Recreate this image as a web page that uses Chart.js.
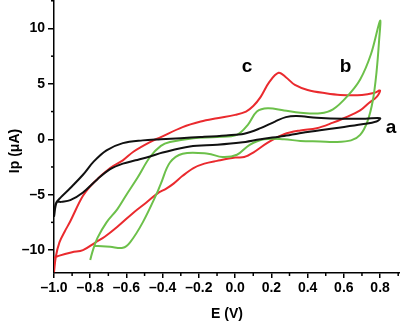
<!DOCTYPE html>
<html>
<head>
<meta charset="utf-8">
<script src="https://cdn.jsdelivr.net/npm/chart.js@4.4.1/dist/chart.umd.min.js"></script>
<style>
    html, body { margin: 0; padding: 0; background: #fff; }
    #wrap { width: 400px; height: 323px; position: relative; }
</style>
</head>
<body>
<div id="wrap"><canvas id="cvChart"></canvas></div>
<script>
// Curve a (black): potential E (V) and current Ip (uA), along the sweep
const aE = [-1.0, -0.99, -0.96, -0.91, -0.84, -0.78, -0.71, -0.62, -0.51, -0.41, -0.30, -0.19, -0.05, 0.05, 0.14, 0.22, 0.28, 0.34, 0.45, 0.60, 0.72, 0.80,
            0.78, 0.70, 0.55, 0.40, 0.27, 0.14, 0.03, -0.10, -0.25, -0.40, -0.47, -0.55, -0.62, -0.69, -0.76, -0.84, -0.91, -0.96, -0.985, -1.0];
const aI = [-7.0, -5.8, -5.2, -4.4, -3.2, -2.0, -1.0, -0.35, -0.1, 0.0, 0.1, 0.2, 0.35, 0.5, 1.0, 1.6, 2.0, 2.1, 1.95, 1.85, 1.85, 1.9,
            1.6, 1.35, 1.0, 0.65, 0.3, 0.0, -0.3, -0.5, -0.65, -1.2, -1.55, -1.9, -2.2, -2.7, -3.6, -4.8, -5.5, -5.65, -5.7, -7.0];

// Curve b (green)
const bE = [-0.80, -0.785, -0.76, -0.71, -0.65, -0.60, -0.54, -0.47, -0.41, -0.36, -0.23, -0.10, 0.01, 0.07, 0.12, 0.18, 0.27, 0.36, 0.47, 0.54, 0.62, 0.69, 0.75, 0.80,
            0.795, 0.78, 0.76, 0.73, 0.69, 0.64, 0.55, 0.47, 0.36, 0.27, 0.16, 0.08, 0.01, -0.07, -0.15, -0.29, -0.36, -0.41, -0.43, -0.51, -0.58, -0.62, -0.69, -0.78];
const bI = [-10.9, -10.0, -8.9, -7.5, -6.3, -5.0, -3.5, -1.6, -0.6, -0.25, 0.1, 0.2, 0.4, 1.3, 2.5, 2.8, 2.6, 2.4, 2.35, 2.7, 3.9, 5.4, 7.7, 10.7,
            9.0, 6.0, 3.5, 1.6, 0.4, -0.1, -0.25, -0.2, -0.15, 0.0, 0.0, -0.5, -1.4, -1.6, -1.3, -1.3, -2.1, -4.0, -4.8, -7.5, -9.3, -9.8, -9.7, -9.6];

// Curve c (red)
const cE = [-1.0, -0.99, -0.97, -0.94, -0.91, -0.84, -0.78, -0.69, -0.62, -0.56, -0.47, -0.41, -0.29, -0.19, -0.10, 0.0, 0.06, 0.10, 0.14, 0.19, 0.24, 0.28, 0.33, 0.40, 0.50, 0.58, 0.70, 0.77, 0.80,
            0.78, 0.74, 0.69, 0.60, 0.54, 0.45, 0.36, 0.27, 0.18, 0.10, 0.05, 0.0, -0.10, -0.17, -0.23, -0.29, -0.34, -0.38, -0.43, -0.49, -0.56, -0.65, -0.72, -0.77, -0.84, -0.90, -0.97, -1.0];
const cI = [-12.0, -10.6, -9.3, -8.3, -7.4, -5.1, -3.9, -2.6, -1.9, -1.1, -0.25, 0.2, 1.1, 1.6, 1.9, 2.2, 2.5, 3.0, 3.8, 5.2, 6.0, 5.6, 4.9, 4.45, 4.15, 4.0, 4.0, 4.2, 4.4,
            3.8, 3.3, 2.6, 1.9, 1.5, 1.0, 0.8, 0.45, -0.3, -1.2, -1.6, -1.65, -1.95, -2.2, -2.6, -3.3, -4.0, -4.45, -4.9, -5.7, -6.6, -7.9, -8.8, -9.3, -10.0, -10.2, -10.5, -10.7];

// Axis ticks
const xTicks = [-1.0, -0.8, -0.6, -0.4, -0.2, 0.0, 0.2, 0.4, 0.6, 0.8];
const xMinor = [-0.9, -0.7, -0.5, -0.3, -0.1, 0.1, 0.3, 0.5, 0.7, 0.9];
const yTicks = [-10, -5, 0, 5, 10];
const yMinor = [-7.5, -2.5, 2.5, 7.5, 12.5];

// Curve names
const curveNames = ['a', 'b', 'c'];

function toPoints(xs, ys) {
    return xs.map((v, i) => ({ x: v, y: ys[i] }));
}

function fmtTick(v, digits) {
    const s = Math.abs(v).toFixed(digits);
    return v < -1e-9 ? '\u2013' + s : s;
}

const tickFont = { family: 'Liberation Sans, Arial, sans-serif', size: 14, weight: 'bold' };

// Minor ticks, y title and curve names
const extrasPlugin = {
    id: 'extras',
    afterDraw(chart) {
        const { ctx, scales: { x, y } } = chart;
        ctx.save();
        ctx.strokeStyle = '#000';
        ctx.lineWidth = 1.5;
        xMinor.forEach(v => {
            const px = x.getPixelForValue(v);
            ctx.beginPath();
            ctx.moveTo(px, y.bottom);
            ctx.lineTo(px, y.bottom + 3);
            ctx.stroke();
        });
        yMinor.forEach(v => {
            const py = y.getPixelForValue(v);
            ctx.beginPath();
            ctx.moveTo(x.left, py);
            ctx.lineTo(x.left - 3, py);
            ctx.stroke();
        });

        // y axis title
        ctx.fillStyle = '#000';
        ctx.font = 'bold 14px Liberation Sans, Arial, sans-serif';
        ctx.textAlign = 'center';
        ctx.textBaseline = 'middle';
        ctx.translate(15, 151);
        ctx.rotate(-Math.PI / 2);
        ctx.fillText('Ip (\u03bcA)', 0, 0);
        ctx.restore();

        // curve names
        const namePos = [[0.86, 1.0], [0.61, 6.5], [0.065, 6.5]];
        ctx.save();
        ctx.fillStyle = '#000';
        ctx.font = 'bold 19px Liberation Sans, Arial, sans-serif';
        ctx.textAlign = 'center';
        ctx.textBaseline = 'middle';
        curveNames.forEach((n, i) => {
            ctx.fillText(n, x.getPixelForValue(namePos[i][0]), y.getPixelForValue(namePos[i][1]));
        });
        ctx.restore();
    }
};

function initializeCvChart() {
    const canvas = document.getElementById('cvChart');
    if (!canvas || typeof Chart === 'undefined') return;
    const lineStyle = { showLine: true, pointRadius: 0, borderWidth: 2, tension: 0.35, fill: false };
    new Chart(canvas.getContext('2d'), {
        type: 'scatter',
        data: {
            datasets: [
                Object.assign({ label: 'a', data: toPoints(aE, aI), borderColor: '#111111' }, lineStyle),
                Object.assign({ label: 'b', data: toPoints(bE, bI), borderColor: '#6cc04a' }, lineStyle),
                Object.assign({ label: 'c', data: toPoints(cE, cI), borderColor: '#ea2a2e' }, lineStyle)
            ]
        },
        options: {
            responsive: true,
            maintainAspectRatio: false,
            animation: false,
            layout: { padding: 0 },
            plugins: {
                legend: { display: false },
                tooltip: { enabled: false }
            },
            scales: {
                x: {
                    type: 'linear',
                    min: -1.0,
                    max: 0.91,
                    afterBuildTicks: s => { s.ticks = xTicks.map(v => ({ value: v })); },
                    afterFit: s => { s.height = 50; s.paddingRight = 0; },
                    ticks: {
                        color: '#000',
                        font: tickFont,
                        padding: 2,
                        maxRotation: 0,
                        autoSkip: false,
                        callback: v => fmtTick(v, 1)
                    },
                    grid: { drawOnChartArea: false, drawTicks: true, tickLength: 5, color: '#000', lineWidth: 1.5 },
                    border: { display: true, color: '#000', width: 1.5 },
                    title: {
                        display: true,
                        text: 'E (V)',
                        color: '#000',
                        font: { family: 'Liberation Sans, Arial, sans-serif', size: 14, weight: 'bold' },
                        padding: { top: 0, bottom: 0 }
                    }
                },
                y: {
                    type: 'linear',
                    min: -12.07,
                    max: 12.57,
                    afterBuildTicks: s => { s.ticks = yTicks.map(v => ({ value: v })); },
                    afterFit: s => { s.width = 54; s.paddingTop = 0; s.paddingBottom = 0; },
                    ticks: {
                        color: '#000',
                        font: tickFont,
                        padding: 3,
                        autoSkip: false,
                        callback: v => fmtTick(v, 0)
                    },
                    grid: { drawOnChartArea: false, drawTicks: true, tickLength: 6, color: '#000', lineWidth: 1.5 },
                    border: { display: true, color: '#000', width: 1.5 }
                }
            }
        },
        plugins: [extrasPlugin]
    });
}

document.addEventListener('DOMContentLoaded', initializeCvChart);
</script>
</body>
</html>
